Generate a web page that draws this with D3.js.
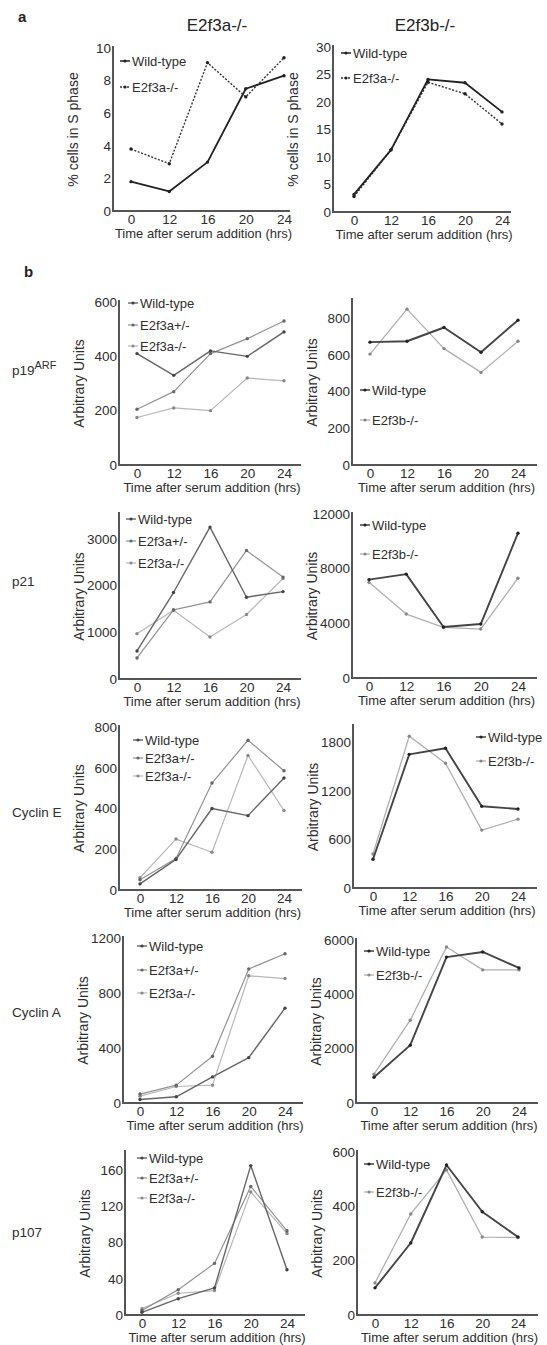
<!DOCTYPE html>
<html><head><meta charset="utf-8">
<script src="https://cdn.jsdelivr.net/npm/d3@7"></script>
<style>
body{margin:0;background:#fff;}
svg{display:block;font-family:"Liberation Sans",Arial,sans-serif;}
</style></head>
<body><svg id="c" width="547" height="1345"></svg>
<script>
// ---------- data ----------
const times = ["0","12","16","20","24"];

// Panel a: % cells in S phase
const sA_wt   = [1.8, 1.2, 3.0, 7.5, 8.3];
const sA_ko   = [3.8, 2.9, 9.1, 7.0, 9.4];
const sB_wt   = [3.2, 11.3, 24.1, 23.5, 18.2];
const sB_ko   = [2.8, 11.3, 23.6, 21.5, 16.0];

// Panel b: arbitrary units
const p19a_wt  = [410, 330, 420, 400, 490];
const p19a_het = [205, 270, 410, 465, 530];
const p19a_ko  = [175, 210, 200, 320, 310];
const p19b_wt  = [670, 675, 750, 615, 790];
const p19b_ko  = [605, 850, 635, 505, 675];

const p21a_wt  = [600, 1850, 3250, 1750, 1870];
const p21a_het = [450, 1480, 1650, 2750, 2180];
const p21a_ko  = [970, 1470, 900, 1380, 2150];
const p21b_wt  = [7200, 7600, 3730, 3950, 10600];
const p21b_ko  = [7000, 4680, 3700, 3580, 7300];

const cycEa_wt  = [30, 150, 400, 365, 550];
const cycEa_het = [50, 155, 525, 735, 585];
const cycEa_ko  = [60, 250, 185, 660, 390];
const cycEb_wt  = [355, 1650, 1725, 1010, 975];
const cycEb_ko  = [420, 1875, 1540, 715, 850];

const cycAa_wt  = [25, 45, 190, 330, 690];
const cycAa_het = [65, 130, 340, 975, 1085];
const cycAa_ko  = [50, 120, 130, 925, 905];
const cycAb_wt  = [950, 2130, 5370, 5560, 4970];
const cycAb_ko  = [1060, 3050, 5740, 4900, 4900];

const p107a_wt  = [3, 18, 30, 165, 50];
const p107a_het = [5, 28, 57, 142, 93];
const p107a_ko  = [7, 24, 27, 136, 90];
const p107b_wt  = [100, 265, 552, 380, 287];
const p107b_ko  = [118, 372, 534, 287, 285];

// tick labels
const ticksA1 = [0,2,4,6,8,10];
const ticksA2 = [0,5,10,15,20,25,30];
const ticksP19a = [0,200,400,600];
const ticksP19b = [0,200,400,600,800];
const ticksP21a = [0,1000,2000,3000];
const ticksP21b = [0,4000,8000,12000];
const ticksCEa = [0,200,400,600,800];
const ticksCEb = [0,600,1200,1800];
const ticksCAa = [0,400,800,1200];
const ticksCAb = [0,2000,4000,6000];
const ticksP107a = [0,40,80,120,160];
const ticksP107b = [0,200,400,600];

const xTitle = "Time after serum addition (hrs)";

// ---------- styles ----------
const S = {
  aWT:{c:"#222",w:1.8,dash:null,dot:"#222"},
  aKO:{c:"#333",w:1.4,dash:"2,1.6",dot:"#222"},
  lWT:{c:"#666",w:1.4,dash:null,dot:"#444"},
  lHET:{c:"#939393",w:1.2,dash:null,dot:"#666"},
  lKO:{c:"#b8b8b8",w:1.2,dash:null,dot:"#888"},
  rWT:{c:"#444",w:1.9,dash:null,dot:"#222"},
  rKO:{c:"#b0b0b0",w:1.3,dash:null,dot:"#888"}
};

// ---------- layout ----------
const panels = [
 {ax:113,x0:131,x24:284,right:290,yTop:48,y0:211,max:10,ticks:ticksA1,ylab:"% cells in S phase",
  series:[[sA_wt,S.aWT],[sA_ko,S.aKO]],names:["Wild-type","E2f3a-/-"],lx:120,lys:[61,87]},
 {ax:333,x0:354,x24:502,right:511,yTop:47,y0:212,max:30,ticks:ticksA2,ylab:"% cells in S phase",
  series:[[sB_wt,S.aWT],[sB_ko,S.aKO]],names:["Wild-type","E2f3a-/-"],lx:341,lys:[53,78]},

 {ax:119,x0:137,x24:284,right:301,yTop:302,y0:465,max:600,ticks:ticksP19a,ylab:"Arbitrary Units",
  series:[[p19a_wt,S.lWT],[p19a_het,S.lHET],[p19a_ko,S.lKO]],names:["Wild-type","E2f3a+/-","E2f3a-/-"],lx:128,lys:[303,325,346]},
 {ax:352,x0:370,x24:518,right:537,yTop:300,y0:465,max:900,ticks:ticksP19b,ylab:"Arbitrary Units",
  series:[[p19b_wt,S.rWT],[p19b_ko,S.rKO]],names:["Wild-type","E2f3b-/-"],lx:360,lys:[390,420]},

 {ax:119,x0:137,x24:283,right:301,yTop:514,y0:679,max:3530,ticks:ticksP21a,ylab:"Arbitrary Units",
  series:[[p21a_wt,S.lWT],[p21a_het,S.lHET],[p21a_ko,S.lKO]],names:["Wild-type","E2f3a+/-","E2f3a-/-"],lx:126,lys:[519,541,563]},
 {ax:352,x0:369,x24:518,right:537,yTop:514,y0:678,max:12000,ticks:ticksP21b,ylab:"Arbitrary Units",
  series:[[p21b_wt,S.rWT],[p21b_ko,S.rKO]],names:["Wild-type","E2f3b-/-"],lx:360,lys:[525,554]},

 {ax:119,x0:140,x24:284,right:302,yTop:727,y0:890,max:800,ticks:ticksCEa,ylab:"Arbitrary Units",
  series:[[cycEa_wt,S.lWT],[cycEa_het,S.lHET],[cycEa_ko,S.lKO]],names:["Wild-type","E2f3a+/-","E2f3a-/-"],lx:133,lys:[740,758,776]},
 {ax:353,x0:373,x24:518,right:537,yTop:726,y0:888,max:2000,ticks:ticksCEb,ylab:"Arbitrary Units",
  series:[[cycEb_wt,S.rWT],[cycEb_ko,S.rKO]],names:["Wild-type","E2f3b-/-"],lx:476,lys:[737,761]},

 {ax:123,x0:140,x24:285,right:303,yTop:938,y0:1103,max:1200,ticks:ticksCAa,ylab:"Arbitrary Units",
  series:[[cycAa_wt,S.lWT],[cycAa_het,S.lHET],[cycAa_ko,S.lKO]],names:["Wild-type","E2f3a+/-","E2f3a-/-"],lx:137,lys:[946,970,993]},
 {ax:356,x0:374,x24:519,right:538,yTop:940,y0:1103,max:6000,ticks:ticksCAb,ylab:"Arbitrary Units",
  series:[[cycAb_wt,S.rWT],[cycAb_ko,S.rKO]],names:["Wild-type","E2f3b-/-"],lx:364,lys:[951,975]},

 {ax:125,x0:142,x24:287,right:305,yTop:1152,y0:1315,max:180,ticks:ticksP107a,ylab:"Arbitrary Units",
  series:[[p107a_wt,S.lWT],[p107a_het,S.lHET],[p107a_ko,S.lKO]],names:["Wild-type","E2f3a+/-","E2f3a-/-"],lx:137,lys:[1158,1178,1198]},
 {ax:357,x0:375,x24:518,right:538,yTop:1152,y0:1315,max:600,ticks:ticksP107b,ylab:"Arbitrary Units",
  series:[[p107b_wt,S.rWT],[p107b_ko,S.rKO]],names:["Wild-type","E2f3b-/-"],lx:364,lys:[1164,1192]}
];

const svg = d3.select("#c");
const txt = "#2e2e2e", axC = "#555";

panels.forEach(p=>{
  const g = svg.append("g");
  const x = d3.scalePoint().domain(times).range([p.x0,p.x24]);
  const y = d3.scaleLinear().domain([0,p.max]).range([p.y0,p.yTop]);

  const ya = g.append("g").attr("transform",`translate(${p.ax},0)`)
    .call(d3.axisLeft(y).tickValues(p.ticks).tickSize(0).tickPadding(2).tickFormat(d3.format("d")));
  ya.select(".domain").remove();
  ya.selectAll("text").attr("fill",txt).style("font-size","13.5px").style("font-family","'Liberation Sans', Arial, sans-serif");
  g.append("line").attr("x1",p.ax).attr("x2",p.ax).attr("y1",p.yTop-2).attr("y2",p.y0+1)
    .attr("stroke",axC).attr("stroke-width",2);

  const xa = g.append("g").attr("transform",`translate(0,${p.y0})`)
    .call(d3.axisBottom(x).tickSize(0).tickPadding(3));
  xa.select(".domain").remove();
  xa.selectAll("text").attr("fill",txt).style("font-size","13.5px").style("font-family","'Liberation Sans', Arial, sans-serif");
  g.append("line").attr("x1",p.ax-1).attr("x2",p.right).attr("y1",p.y0).attr("y2",p.y0)
    .attr("stroke",axC).attr("stroke-width",2);

  g.append("text").attr("x",(p.ax+p.right)/2+2).attr("y",p.y0+27).attr("text-anchor","middle")
    .attr("fill",txt).style("font-size","13px").text(xTitle);

  g.append("text").attr("transform",`translate(${p.ax-35},${(p.yTop+p.y0)/2}) rotate(-90)`)
    .attr("text-anchor","middle").attr("fill",txt).style("font-size","14px").text(p.ylab);

  const line = d3.line().x((d,i)=>x(times[i])).y(d=>y(d));
  p.series.slice().reverse().forEach(([vals,st])=>{
    g.append("path").attr("d",line(vals)).attr("fill","none").attr("stroke",st.c)
      .attr("stroke-width",st.w).attr("stroke-dasharray",st.dash).attr("stroke-linejoin","round");
    g.selectAll(null).data(vals).enter().append("circle")
      .attr("cx",(d,i)=>x(times[i])).attr("cy",d=>y(d)).attr("r",1.7).attr("fill",st.dot);
  });

  p.series.forEach(([vals,st],i)=>{
    const ly = p.lys[i];
    g.append("line").attr("x1",p.lx).attr("x2",p.lx+10).attr("y1",ly).attr("y2",ly)
      .attr("stroke",st.c).attr("stroke-width",Math.min(st.w,1.5)).attr("stroke-dasharray",st.dash?"2,1.5":null);
    g.append("circle").attr("cx",p.lx+5).attr("cy",ly).attr("r",1.6).attr("fill",st.dot);
    g.append("text").attr("x",p.lx+12).attr("y",ly+4.5).attr("fill",txt)
      .style("font-size","13px").text(p.names[i]);
  });
});

svg.append("text").attr("x",18).attr("y",22).style("font-size","15px").style("font-weight","bold").attr("fill","#222").text("a");
svg.append("text").attr("x",24).attr("y",277).style("font-size","15px").style("font-weight","bold").attr("fill","#222").text("b");
svg.append("text").attr("x",217).attr("y",31).attr("text-anchor","middle").style("font-size","17px").attr("fill","#222").text("E2f3a-/-");
svg.append("text").attr("x",425).attr("y",31).attr("text-anchor","middle").style("font-size","17px").attr("fill","#222").text("E2f3b-/-");

const rowLab = (t,yv)=>svg.append("text").attr("x",12).attr("y",yv).style("font-size","13.5px").attr("fill",txt).text(t);
const p19 = svg.append("text").attr("x",12).attr("y",375).style("font-size","13.5px").attr("fill",txt);
p19.append("tspan").text("p19");
p19.append("tspan").attr("dy",-6).style("font-size","11px").text("ARF");
rowLab("p21",586);
rowLab("Cyclin E",817);
rowLab("Cyclin A",1017);
rowLab("p107",1237);
</script></body></html>
